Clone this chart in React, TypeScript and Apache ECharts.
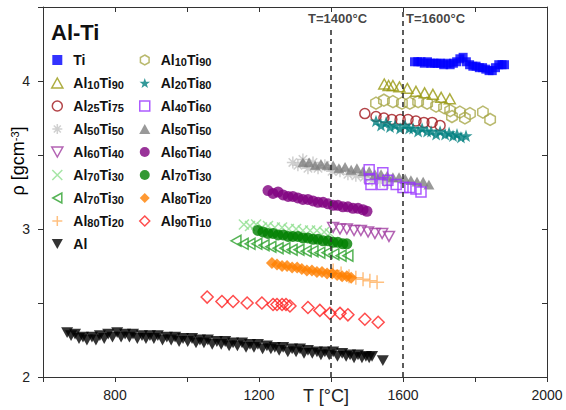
import React, { useEffect, useRef } from 'react';
import * as echarts from 'echarts';

const FONT = '"Liberation Sans", Arial, Helvetica, sans-serif';

// ---------------- data (T [°C], rho [g/cm3]) ----------------
const ti = [[1632,4.13],[1641,4.13],[1650,4.13],[1659,4.12],[1668,4.13],[1677,4.12],[1686,4.12],[1695,4.12],[1704,4.12],[1713,4.11],[1722,4.12],[1731,4.11],[1740,4.12],[1749,4.13],[1758,4.15],[1767,4.16],[1776,4.13],[1785,4.11],[1794,4.10],[1803,4.10],[1812,4.09],[1821,4.09],[1830,4.08],[1839,4.07],[1848,4.07],[1857,4.09],[1866,4.11],[1875,4.11],[1882,4.11]];
const al10ti90Tri = [[1548,3.98],[1560,3.97],[1572,3.97],[1590,3.96],[1612,3.95],[1636,3.93],[1660,3.92],[1683,3.91],[1706,3.89],[1730,3.88]];
const al10ti90Hex = [[1525,3.85],[1547,3.87],[1572,3.86],[1597,3.85],[1619,3.85],[1642,3.86],[1667,3.85],[1692,3.83],[1714,3.82],[1731,3.80],[1736,3.76],[1758,3.79],[1772,3.75],[1786,3.78],[1822,3.79],[1842,3.74]];
const al25ti75 = [[1494,3.78],[1525,3.76],[1547,3.75],[1569,3.74],[1592,3.74],[1614,3.74],[1636,3.73],[1658,3.72],[1681,3.72],[1703,3.70]];
const al20ti80 = [[1525,3.73],[1539,3.70],[1553,3.72],[1564,3.69],[1578,3.70],[1592,3.68],[1606,3.70],[1617,3.68],[1628,3.68],[1642,3.66],[1653,3.68],[1667,3.66],[1678,3.66],[1692,3.64],[1703,3.66],[1717,3.64],[1728,3.65],[1739,3.63],[1750,3.64],[1761,3.62],[1775,3.63]];
const al50ti50Ast = [[1294,3.45],[1308,3.43],[1322,3.47],[1336,3.41],[1350,3.45],[1364,3.41],[1383,3.43],[1403,3.39],[1425,3.39],[1447,3.37],[1469,3.36],[1492,3.35],[1514,3.33],[1536,3.32],[1558,3.31]];
const al50ti50Tri = [[1322,3.45],[1339,3.45],[1356,3.43],[1372,3.44],[1389,3.43],[1406,3.43],[1422,3.41],[1439,3.42],[1456,3.40],[1472,3.41],[1489,3.39],[1506,3.39],[1522,3.37],[1539,3.37],[1556,3.36],[1572,3.35],[1589,3.35],[1606,3.34],[1622,3.33],[1639,3.32],[1656,3.32],[1672,3.30]];
const al40ti60 = [[1506,3.40],[1508,3.34],[1511,3.30],[1544,3.38],[1542,3.30],[1558,3.33],[1581,3.30],[1600,3.28],[1619,3.28],[1636,3.27],[1650,3.25]];
const al60ti40Circ = [[1225,3.26],[1239,3.24],[1253,3.25],[1267,3.23],[1281,3.22],[1294,3.22],[1308,3.21],[1322,3.20],[1336,3.20],[1350,3.19],[1364,3.18],[1378,3.18],[1392,3.17],[1406,3.16],[1419,3.16],[1433,3.15],[1447,3.15],[1461,3.14],[1475,3.14],[1489,3.13],[1500,3.12]];
const al60ti40Tri = [[1406,3.01],[1425,3.00],[1444,3.00],[1464,2.99],[1483,2.99],[1503,2.98],[1522,2.97],[1542,2.97],[1561,2.95]];
const al70ti30X = [[1158,3.03],[1175,3.02],[1192,3.03],[1208,3.01],[1225,3.02],[1244,3.01],[1264,3.01],[1283,3.00],[1303,3.00],[1322,2.99],[1342,2.99],[1361,2.99],[1381,2.98],[1397,2.97]];
const al70ti30Circ = [[1197,2.99],[1211,2.98],[1225,2.97],[1239,2.97],[1253,2.96],[1267,2.96],[1281,2.95],[1294,2.95],[1308,2.95],[1322,2.94],[1336,2.94],[1350,2.93],[1364,2.93],[1378,2.92],[1392,2.92],[1406,2.91],[1419,2.91],[1433,2.90],[1444,2.90]];
const al70ti30Tri = [[1136,2.92],[1156,2.90],[1175,2.90],[1194,2.90],[1214,2.89],[1233,2.88],[1253,2.87],[1272,2.87],[1292,2.86],[1311,2.86],[1331,2.85],[1350,2.85],[1369,2.84],[1389,2.84],[1408,2.83],[1428,2.82],[1447,2.82]];
const al80ti20Dia = [[1236,2.77],[1250,2.76],[1264,2.75],[1278,2.75],[1292,2.74],[1306,2.74],[1319,2.73],[1333,2.72],[1347,2.72],[1361,2.71],[1375,2.71],[1389,2.70],[1403,2.70],[1417,2.69],[1431,2.68],[1444,2.68],[1456,2.67]];
const al80ti20Plus = [[1406,2.72],[1428,2.70],[1450,2.68],[1469,2.67],[1489,2.66],[1508,2.65],[1528,2.64]];
const al90ti10 = [[1056,2.54],[1097,2.51],[1128,2.51],[1167,2.50],[1208,2.50],[1239,2.49],[1250,2.49],[1264,2.49],[1275,2.49],[1286,2.48],[1336,2.47],[1369,2.45],[1397,2.43],[1425,2.43],[1447,2.42],[1494,2.39],[1531,2.37]];
const al = [[667,2.30],[678,2.28],[689,2.29],[700,2.26],[711,2.27],[722,2.25],[736,2.27],[747,2.25],[758,2.28],[770,2.26],[781,2.29],[793,2.27],[806,2.30],[817,2.27],[828,2.29],[840,2.27],[850,2.29],[862,2.26],[875,2.28],[886,2.26],[897,2.28],[908,2.26],[919,2.28],[932,2.25],[944,2.27],[956,2.25],[967,2.27],[978,2.24],[989,2.26],[1002,2.24],[1014,2.26],[1025,2.23],[1036,2.25],[1047,2.23],[1058,2.25],[1070,2.22],[1083,2.24],[1095,2.22],[1106,2.24],[1117,2.21],[1128,2.23],[1140,2.21],[1153,2.23],[1164,2.20],[1175,2.22],[1186,2.20],[1197,2.22],[1210,2.19],[1222,2.21],[1233,2.19],[1244,2.20],[1256,2.18],[1267,2.20],[1280,2.17],[1292,2.19],[1303,2.17],[1314,2.19],[1325,2.16],[1336,2.18],[1348,2.16],[1361,2.17],[1372,2.15],[1383,2.17],[1395,2.15],[1406,2.17],[1418,2.14],[1431,2.16],[1442,2.14],[1453,2.15],[1464,2.13],[1475,2.15],[1486,2.13],[1497,2.14],[1506,2.13],[1514,2.14],[1544,2.11]];

const xTickLabels = [800, 1200, 1600, 2000];
const yTickLabels = [2, 3, 4];
const markerTemps = [1400, 1600];
const markerTops = [4.36, 4.48];
const markerLabelRho = [4.42, 4.42];
const markerLabels = ['T=1400°C', 'T=1600°C'];

const legendCol1 = ['Ti', 'Al10Ti90_t', 'Al25Ti75', 'Al50Ti50_a', 'Al60Ti40_v', 'Al70Ti30_x', 'Al70Ti30_l', 'Al80Ti20_p', 'Al'];
const legendCol2 = ['Al10Ti90_h', 'Al20Ti80', 'Al40Ti60', 'Al50Ti50_f', 'Al60Ti40_c', 'Al70Ti30_c', 'Al80Ti20_d', 'Al90Ti10'];

// ---------------- symbols ----------------
const P = {
  square: 'path://M0,0L10,0L10,10L0,10Z',
  circle: 'path://M0,5A5,5 0 1 1 10,5A5,5 0 1 1 0,5Z',
  triUp: 'path://M5,0L10,9L0,9Z',
  triDown: 'path://M0,0L10,0L5,9Z',
  triLeft: 'path://M0,5L9,0L9,10Z',
  diamond: 'path://M5,0L10,5L5,10L0,5Z',
  star: 'path://M5,0L6.18,3.38L9.76,3.45L6.9,5.62L7.94,9.05L5,7L2.06,9.05L3.1,5.62L0.24,3.45L3.82,3.38Z',
  hex: 'path://M5,0L9.33,2.5L9.33,7.5L5,10L0.67,7.5L0.67,2.5Z',
  asterisk: 'path://M5,0L5,10M0,5L10,5M1.5,1.5L8.5,8.5M8.5,1.5L1.5,8.5',
  cross: 'path://M0,0L10,10M10,0L0,10',
  plus: 'path://M5,0L5,10M0,5L10,5',
};

function formula(s: string): string {
  return s.replace(/([A-Za-z]+)|(\d+)/g, (m, letters) => (letters ? `{a|${m}}` : `{s|${m}}`));
}

export default function App() {
  const ref = useRef<HTMLDivElement>(null);

  useEffect(() => {
    const chart = echarts.init(ref.current!, null, { renderer: 'svg' });

    const defs = [
      { id: 'Al', label: 'Al', data: al, sym: P.triDown, color: '#000000', open: false, size: 12 },
      { id: 'Al90Ti10', label: 'Al90Ti10', data: al90ti10, sym: P.diamond, color: '#ff2020', open: true, size: 12 },
      { id: 'Al80Ti20_p', label: 'Al80Ti20', data: al80ti20Plus, sym: P.plus, color: '#ffb060', open: true, size: 14 },
      { id: 'Al80Ti20_d', label: 'Al80Ti20', data: al80ti20Dia, sym: P.diamond, color: '#ff8000', open: false, size: 12 },
      { id: 'Al70Ti30_l', label: 'Al70Ti30', data: al70ti30Tri, sym: P.triLeft, color: '#2aa02a', open: true, size: 11 },
      { id: 'Al70Ti30_x', label: 'Al70Ti30', data: al70ti30X, sym: P.cross, color: '#8ede8e', open: true, size: 10 },
      { id: 'Al70Ti30_c', label: 'Al70Ti30', data: al70ti30Circ, sym: P.circle, color: '#008000', open: false, size: 11 },
      { id: 'Al60Ti40_v', label: 'Al60Ti40', data: al60ti40Tri, sym: P.triDown, color: '#a03ca0', open: true, size: 11 },
      { id: 'Al60Ti40_c', label: 'Al60Ti40', data: al60ti40Circ, sym: P.circle, color: '#800080', open: false, size: 11 },
      { id: 'Al50Ti50_a', label: 'Al50Ti50', data: al50ti50Ast, sym: P.asterisk, color: '#c4c4c4', open: true, size: 12 },
      { id: 'Al50Ti50_f', label: 'Al50Ti50', data: al50ti50Tri, sym: P.triUp, color: '#808080', open: false, size: 11 },
      { id: 'Al40Ti60', label: 'Al40Ti60', data: al40ti60, sym: P.square, color: '#9933ff', open: true, size: 10 },
      { id: 'Al25Ti75', label: 'Al25Ti75', data: al25ti75, sym: P.circle, color: '#a0161c', open: true, size: 10 },
      { id: 'Al20Ti80', label: 'Al20Ti80', data: al20ti80, sym: P.star, color: '#008080', open: false, size: 13 },
      { id: 'Al10Ti90_h', label: 'Al10Ti90', data: al10ti90Hex, sym: P.hex, color: '#a8a848', open: true, size: 12 },
      { id: 'Al10Ti90_t', label: 'Al10Ti90', data: al10ti90Tri, sym: P.triUp, color: '#999910', open: true, size: 11 },
      { id: 'Ti', label: 'Ti', data: ti, sym: P.square, color: '#0000ff', open: false, size: 9 },
    ];
    const byId: Record<string, any> = {};
    defs.forEach((d) => (byId[d.id] = d));

    const styleOf = (d: any) =>
      d.open
        ? { color: 'rgba(0,0,0,0)', borderColor: d.color, borderWidth: 1.5 }
        : { color: d.color, borderWidth: 0 };

    const scatterSeries = defs.map((d) => ({
      type: 'scatter',
      name: d.id,
      data: d.data,
      symbol: d.sym,
      symbolSize: d.size,
      symbolKeepAspect: true,
      itemStyle: styleOf(d),
      emphasis: { disabled: true },
      silent: true,
    }));

    const lineSeries = markerTemps.map((t, i) => ({
      type: 'line',
      name: 'marker' + i,
      data: [[t, 2], [t, markerTops[i]]],
      symbol: 'none',
      lineStyle: { color: '#333', width: 1.6, type: [5, 4] },
      silent: true,
      z: 5,
    }));

    const labelSeries = {
      type: 'scatter',
      name: 'markerLabels',
      symbol: 'circle',
      symbolSize: 2,
      itemStyle: { color: 'rgba(0,0,0,0)' },
      silent: true,
      data: markerTemps.map((t, i) => ({
        value: [t, markerLabelRho[i]],
        label: {
          show: true,
          formatter: markerLabels[i],
          position: i === 0 ? [-22, 1] : [4, 1],
          align: 'left',
          verticalAlign: 'middle',
          fontSize: 13,
          fontWeight: 'bold',
          color: '#111',
          fontFamily: FONT,
        },
      })),
    };

    const rich = {
      a: { fontSize: 14, fontWeight: 'bold', color: '#111', lineHeight: 14, verticalAlign: 'middle', fontFamily: FONT },
      s: { fontSize: 11, fontWeight: 'bold', color: '#111', lineHeight: 8, verticalAlign: 'bottom', fontFamily: FONT },
    };

    const makeLegend = (names: string[], left: number) => ({
      orient: 'vertical',
      left,
      top: 53,
      padding: 0,
      itemWidth: 22,
      itemHeight: 10,
      itemGap: 9,
      symbolKeepAspect: true,
      selectedMode: false,
      data: names.map((n) => ({ name: n, icon: byId[n].sym, itemStyle: styleOf(byId[n]) })),
      formatter: (n: string) => formula(byId[n].label),
      textStyle: { fontFamily: FONT, rich },
    });

    const axisLine = { show: true, onZero: false, lineStyle: { color: '#333', width: 1 } };

    const option = {
      animation: false,
      backgroundColor: '#ffffff',
      textStyle: { fontFamily: FONT },
      title: {
        text: 'Al-Ti',
        left: 51,
        top: 21,
        padding: 0,
        textStyle: { fontSize: 22, fontWeight: 'bold', color: '#111', fontFamily: FONT },
      },
      grid: { left: 43, right: 19, top: 7, bottom: 33, containLabel: false },
      legend: [makeLegend(legendCol1, 51), makeLegend(legendCol2, 139)],
      xAxis: [
        {
          type: 'value', min: 600, max: 2000, interval: 200, position: 'bottom',
          axisLine, splitLine: { show: false },
          axisTick: { show: true, inside: false, length: 5, lineStyle: { color: '#333' } },
          axisLabel: {
            margin: 11, fontSize: 14, color: '#222', fontFamily: FONT,
            formatter: (v: number) => (xTickLabels.includes(v) ? String(v) : ''),
          },
        },
        {
          type: 'value', min: 600, max: 2000, interval: 200, position: 'top',
          axisLine, splitLine: { show: false },
          axisTick: { show: true, inside: true, length: 5, lineStyle: { color: '#333' } },
          axisLabel: { show: false },
        },
      ],
      yAxis: [
        {
          type: 'value', min: 2, max: 4.5, interval: 0.5, position: 'left',
          axisLine, splitLine: { show: false },
          axisTick: { show: true, inside: false, length: 5, lineStyle: { color: '#333' } },
          axisLabel: {
            margin: 13, fontSize: 14, color: '#222', fontFamily: FONT,
            formatter: (v: number) => (yTickLabels.includes(v) ? String(v) : ''),
          },
        },
        {
          type: 'value', min: 2, max: 4.5, interval: 0.5, position: 'right',
          axisLine, splitLine: { show: false },
          axisTick: { show: true, inside: true, length: 5, lineStyle: { color: '#333' } },
          axisLabel: { show: false },
        },
      ],
      graphic: [
        {
          type: 'text',
          x: 18,
          y: 161,
          rotation: Math.PI / 2,
          style: {
            text: '{m|ρ [gcm}{p|-3}{m|]}',
            align: 'center',
            verticalAlign: 'middle',
            rich: {
              m: { fontSize: 18, color: '#222', lineHeight: 18, verticalAlign: 'middle', fontFamily: FONT },
              p: { fontSize: 11, color: '#222', lineHeight: 10, verticalAlign: 'top', fontFamily: FONT },
            },
          },
        },
        {
          type: 'text',
          x: 326,
          y: 396,
          style: {
            text: 'T [°C]',
            align: 'center',
            verticalAlign: 'middle',
            fontSize: 18,
            fill: '#222',
            fontFamily: FONT,
          },
        },
      ],
      series: [...scatterSeries, ...lineSeries, labelSeries],
    };

    chart.setOption(option as any);
    return () => chart.dispose();
  }, []);

  return (
    <div
      ref={ref}
      style={{ position: 'fixed', left: 0, top: 0, width: 566, height: 410, background: '#fff' }}
    />
  );
}
